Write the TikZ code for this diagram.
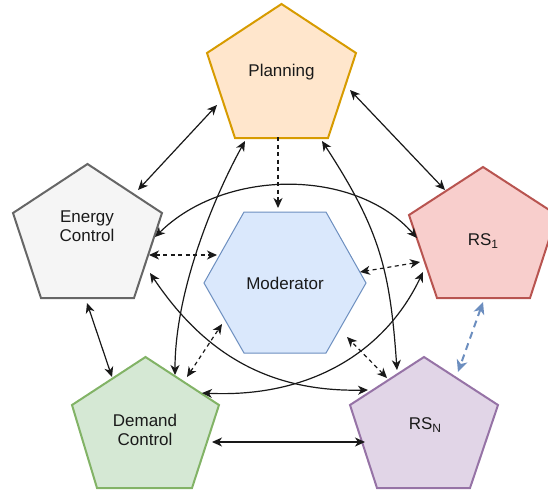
\documentclass[tikz,border=0pt]{standalone}
\usepackage{fontspec}
\setmainfont{Liberation Sans}
\usetikzlibrary{arrows.meta}
\definecolor{planF}{HTML}{FFE6CC}\definecolor{planD}{HTML}{D79B00}
\definecolor{enF}{HTML}{F5F5F5}\definecolor{enD}{HTML}{666666}
\definecolor{rsaF}{HTML}{F8CECC}\definecolor{rsaD}{HTML}{B85450}
\definecolor{demF}{HTML}{D5E8D4}\definecolor{demD}{HTML}{82B366}
\definecolor{rsnF}{HTML}{E1D5E7}\definecolor{rsnD}{HTML}{9673A6}
\definecolor{modF}{HTML}{DAE8FC}\definecolor{modD}{HTML}{6C8EBF}
\definecolor{txt}{HTML}{1A1A1A}
\tikzset{
  shapeline/.style={line width=2pt, line join=miter},
  lbl/.style={align=center, text=txt, font=\fontsize{17}{19.5}\selectfont, inner sep=0pt},
  tip/.tip={Stealth[length=10pt,width=9pt,inset=3pt]},
  bi/.style={line width=1.2pt, black!90, {tip}-{tip}},
  bid/.style={bi, dash pattern=on 4pt off 3.5pt},
  one/.style={line width=1.2pt, black!90, dash pattern=on 4pt off 3.5pt, -{tip}},
  blue/.style={line width=2pt, modD, dash pattern=on 7pt off 5pt,
     {Stealth[length=12pt,width=11pt,inset=3.5pt]}-{Stealth[length=12pt,width=11pt,inset=3.5pt]}},
}
\newcommand\sub[1]{\raisebox{-0.35ex}{\fontsize{12}{12}\selectfont #1}}
\begin{document}
\begin{tikzpicture}[x=1pt,y=-1pt]
\useasboundingbox (0,0) rectangle (548,496);
% shapes
\draw[shapeline, draw=planD, fill=planF] (281.5,4) -- (356,53) -- (328,138) -- (235,138) -- (207,53) -- cycle;
\draw[shapeline, draw=enD, fill=enF] (87.5,164) -- (162,213) -- (134,298) -- (41,298) -- (13,213) -- cycle;
\draw[shapeline, draw=rsaD, fill=rsaF] (483,167) -- (557,215) -- (530,298) -- (437,298) -- (409,215) -- cycle;
\draw[shapeline, draw=demD, fill=demF] (145.5,357) -- (219,405) -- (192,488) -- (97,488) -- (72,405) -- cycle;
\draw[shapeline, draw=rsnD, fill=rsnF] (424,357) -- (498,405) -- (470,488) -- (377,488) -- (350,405) -- cycle;
\draw[line width=1pt, draw=modD, fill=modF] (204,283) -- (244,212) -- (326,212) -- (366,283) -- (326,353) -- (244,353) -- cycle;
% labels
\node[lbl] (plan) at (281.5,72) {Planning};
\node[lbl] (energy) at (87,226) {Energy\\Control};
\node[lbl] (rsa) at (483,241) {RS\sub{1}};
\node[lbl] (demand) at (145,430) {Demand\\Control};
\node[lbl] (rsn) at (425,425) {RS\sub{N}};
\node[lbl] (mod) at (285,283) {Moderator};
% attachment points
\coordinate (pE) at (217,105); \coordinate (eP) at (138,190);
\coordinate (pR) at (350,90);  \coordinate (rP) at (445,190);
\coordinate (pD) at (245,141); \coordinate (dP) at (175,375);
\coordinate (pN) at (322,141); \coordinate (nP) at (397,370);
\coordinate (eR) at (155,237); \coordinate (rE) at (417,238);
\coordinate (eN) at (150,273); \coordinate (nE) at (368,390);
\coordinate (dR) at (202,393); \coordinate (rD) at (423,272);
\coordinate (dN) at (212,442); \coordinate (nD) at (365,442);
\coordinate (eD) at (87,303);  \coordinate (dE) at (112,377);
\coordinate (rN) at (483,302); \coordinate (nR) at (458,372);
\coordinate (pM) at (278,137); \coordinate (mP) at (278,208);
\coordinate (eM) at (149,255); \coordinate (mE) at (217,255);
\coordinate (rM) at (420,262); \coordinate (mR) at (360,272);
\coordinate (dM) at (187,377); \coordinate (mD) at (222,324);
\coordinate (nM) at (387,378); \coordinate (mN) at (347,337);
% solid connectors
\draw[bi] (pE) -- (eP);
\draw[bi] (pR) -- (rP);
\draw[bi] (pD) .. controls (215,195) and (175,290) .. (dP);
\draw[bi] (pN) .. controls (380,230) and (390,270) .. (nP);
\draw[bi] (eR) .. controls (225,168) and (355,168) .. (rE);
\draw[bi] (eN) .. controls (205,355) and (270,392) .. (nE);
\draw[bi] (dR) .. controls (310,398) and (385,352) .. (rD);
\draw[bi] (dN) -- (nD);
\draw[bi] (eD) -- (dE);
% dashed connectors
\draw[blue] (rN) -- (nR);
\draw[one] (pM) -- (mP);
\draw[bid] (eM) -- (mE);
\draw[bid] (rM) -- (mR);
\draw[bid] (dM) -- (mD);
\draw[bid] (nM) -- (mN);
\end{tikzpicture}
\end{document}
